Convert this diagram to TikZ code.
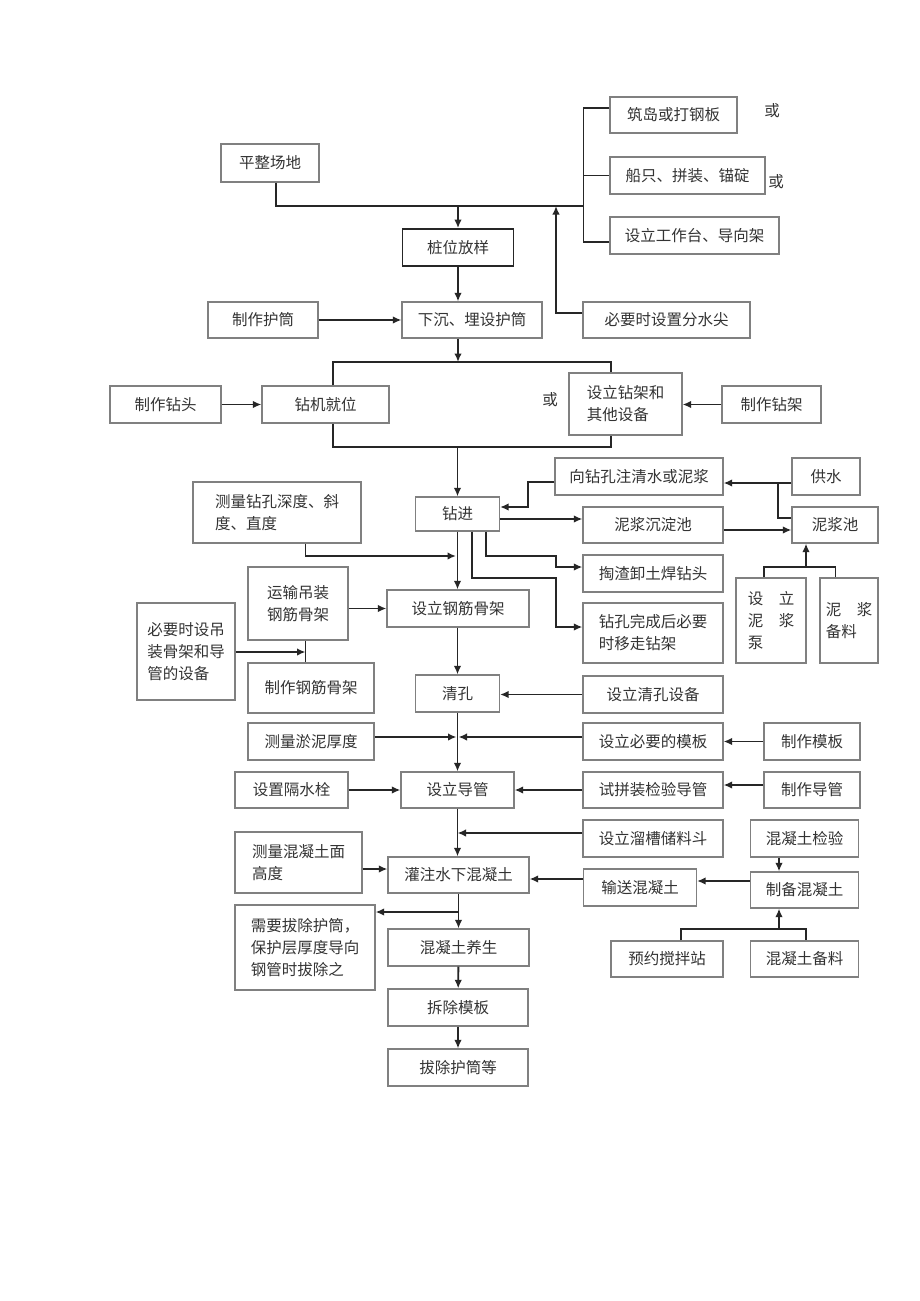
\documentclass[tikz,border=0pt]{standalone}
\usepackage{fontspec}
\setmainfont{Noto Sans CJK SC}
\usetikzlibrary{arrows.meta}

\begin{document}
\begin{tikzpicture}[x=1pt,y=-1pt,
    every node/.style={font=\fontsize{15.5}{22}\selectfont,text=black!80},
    box/.style={draw=black!50,line width=1.2pt,rectangle,inner sep=2pt,align=center},
    sz/.style 2 args={minimum width=#1pt,minimum height=#2pt},
    ln/.style={black!85,line width=1.9pt},
    arr/.style={ln,-{Latex[length=8.5pt,width=7.5pt]}}]
\fill[white] (0,0) rectangle (920,1301);

% top part
\node[box,sz={98}{38}] (pzcd) at (270,163) {平整场地};
\node[box,sz={127}{36}] (zhudao) at (673.5,115) {筑岛或打钢板};
\node[box,sz={155}{37}] (chuanzhi) at (687.5,175.5) {船只、拼装、锚碇};
\node[box,sz={169}{37}] (gzt) at (694.5,235.5) {设立工作台、导向架};
\node (huo1) at (772,111) {或};
\node (huo2) at (776,182) {或};
\node[box,sz={111}{37},draw=black!85,line width=1.8pt] (zwfy) at (458,247.5) {桩位放样};
\node[box,sz={110}{36}] (zzhut) at (263,320) {制作护筒};
\node[box,sz={140}{36}] (xcms) at (472,320) {下沉、埋设护筒};
\node[box,sz={167}{36}] (fenshui) at (666.5,320) {必要时设置分水尖};

\coordinate (bus) at (583.5,206);
\coordinate (brt) at (583.5,108);
\coordinate (brb) at (583.5,242);
\coordinate (fs) at (556,206);
\coordinate (fsb) at (556,313);
\draw[ln] ([xshift=6pt]pzcd.south) |- (bus);
\draw[ln] (brt -| zhudao.west) -- (brt) -- (brb) -- (brb -| gzt.west);
\draw[ln] (chuanzhi.west) -- (chuanzhi.west -| brt);
\draw[arr] (zwfy.north |- bus) -- (zwfy.north);
\draw[arr] (fsb -| fenshui.west) -- (fsb) -- (fs);
\draw[arr] (zwfy.south) -- (zwfy.south |- xcms.north);
\draw[arr] (zzhut) -- (xcms);

% drilling rig
\node[box,sz={111}{37}] (zuantou) at (165.5,404.5) {制作钻头};
\node[box,sz={127}{37}] (zjjw) at (325.5,404.5) {钻机就位};
\node (huo3) at (550,400) {或};
\node[box,sz={113}{62},align=left] (zjss) at (625.5,404) {设立钻架和\\其他设备};
\node[box,sz={99}{37}] (zzzj) at (771.5,404.5) {制作钻架};

\coordinate (rl) at (333,362);
\coordinate (rr) at (611,362);
\coordinate (rbl) at (333,447);
\coordinate (rbr) at (611,447);
\draw[arr] (xcms.south -| zwfy.south) -- (rl -| zwfy.south);
\draw[ln] (zjjw.north -| rl) -- (rl) -- (rr) -- (zjss.north -| rr);
\draw[ln] (zjjw.south -| rl) -- (rbl) -- (rbr) -- (zjss.south -| rbr);
\draw[arr] (zuantou) -- (zjjw);
\draw[arr] (zzzj.west) -- (zzzj.west -| zjss.east);

% drilling
\node[box,sz={84}{34}] (zuanjin) at (457.5,514) {钻进};
\node[box,sz={168}{37}] (zhushui) at (639,476.5) {向钻孔注清水或泥浆};
\node[box,sz={68}{37}] (gongshui) at (826,476.5) {供水};
\node[box,sz={140}{36}] (cdc) at (653,525) {泥浆沉淀池};
\node[box,sz={86}{36}] (njc) at (835,525) {泥浆池};
\node[box,sz={168}{61},align=left] (celiang) at (277,512.5) {测量钻孔深度、斜\\度、直度};
\node[box,sz={140}{37}] (taozha) at (653,573.5) {掏渣卸土焊钻头};
\node[box,sz={140}{60},align=left] (yizou) at (653,633) {钻孔完成后必要\\时移走钻架};
\node[box,sz={70}{85},align=left] (nbeng) at (771,620.5) {设\quad 立\\泥\quad 浆\\泵};
\node[box,sz={58}{85},align=left] (nbl) at (849,620.5) {泥\quad 浆\\备料};

\draw[arr] (rbl -| zuanjin.north) -- (zuanjin.north);
\coordinate (jn) at (778,483);
\coordinate (zs) at (528,482);
\coordinate (b1) at (556,556);
\coordinate (b2) at (556,578);
\coordinate (m1) at (456,556);
\coordinate (t1) at (806,567);
\draw[arr] ([yshift=-6.5pt]gongshui.west) -- ([yshift=-6.5pt]zhushui.east);
\draw[ln] ([yshift=7pt]njc.west) -| (jn);
\draw[arr] (zs -| zhushui.west) -- (zs) |- ([yshift=7pt]zuanjin.east);
\draw[arr] ([yshift=-5pt]zuanjin.east) -- ([yshift=6pt]cdc.west);
\draw[arr] ([yshift=-5pt]cdc.east) -- ([yshift=-5pt]njc.west);
\draw[arr] ([xshift=28.5pt]zuanjin.south) |- (b1) |- ([yshift=6.5pt]taozha.west);
\draw[arr] ([xshift=14.5pt]zuanjin.south) |- (b2) |- ([yshift=6pt]yizou.west);
\draw[arr] ([xshift=28.5pt]celiang.south) |- (m1);
\draw[ln] ([xshift=-7pt]nbeng.north) |- (t1) -| ([xshift=-13.5pt]nbl.north);
\draw[arr] (t1) -- (t1 |- njc.south);

% reinforcement cage
\node[box,sz={100}{73},align=left] (yunshu) at (298,603.5) {运输吊装\\钢筋骨架};
\node[box,sz={142}{37}] (slgj) at (458,608.5) {设立钢筋骨架};
\node[box,sz={98}{97},align=left] (diaozh) at (186,651.5) {必要时设吊\\装骨架和导\\管的设备};
\node[box,sz={126}{50}] (zzgj) at (311,688) {制作钢筋骨架};

\coordinate (v1) at (305.5,652);
\draw[arr] (zuanjin.south) -- (zuanjin.south |- slgj.north);
\draw[arr] (yunshu.east |- slgj.west) -- (slgj.west);
\draw[ln] (yunshu.south -| v1) -- (zzgj.north -| v1);
\draw[arr] (diaozh.east |- v1) -- (v1);

% cleaning and pipes
\node[box,sz={84}{37}] (qingkong) at (457.5,693.5) {清孔};
\node[box,sz={140}{37}] (qksb) at (653,694.5) {设立清孔设备};
\node[box,sz={126}{37}] (yuni) at (311,741.5) {测量淤泥厚度};
\node[box,sz={140}{37}] (mbsl) at (653,741.5) {设立必要的模板};
\node[box,sz={96}{37}] (zzmb) at (812,741.5) {制作模板};
\node[box,sz={113}{36}] (gsh) at (291.5,790) {设置隔水栓};
\node[box,sz={113}{36}] (sldg) at (457.5,790) {设立导管};
\node[box,sz={140}{36}] (pinzh) at (653,790) {试拼装检验导管};
\node[box,sz={96}{36}] (zzdg) at (812,790) {制作导管};

\coordinate (m2) at (457.5,737);
\draw[arr] (slgj.south -| qingkong.north) -- (qingkong.north);
\draw[arr] (qksb.west) -- (qksb.west -| qingkong.east);
\draw[arr] (qingkong.south) -- (qingkong.south |- sldg.north);
\draw[arr] ([yshift=4.5pt]yuni.east) -- ([xshift=-1pt]m2);
\draw[arr] ([yshift=4.5pt]mbsl.west) -- ([xshift=1pt]m2);
\draw[arr] (zzmb) -- (mbsl);
\draw[arr] (gsh) -- (sldg);
\draw[arr] (pinzh) -- (sldg);
\draw[arr] ([yshift=5pt]zzdg.west) -- ([yshift=5pt]pinzh.east);

% concrete
\node[box,sz={140}{37}] (liucao) at (653,838.5) {设立溜槽储料斗};
\node[box,sz={108}{37}] (hjyan) at (804.5,838.5) {混凝土检验};
\node[box,sz={127}{61},align=left] (cmian) at (298.5,862.5) {测量混凝土面\\高度};
\node[box,sz={141}{36}] (guanzhu) at (458.5,875) {灌注水下混凝土};
\node[box,sz={113}{37}] (shusong) at (640,887.5) {输送混凝土};
\node[box,sz={108}{36}] (zhibei) at (804.5,890) {制备混凝土};
\node[box,sz={112}{36}] (yuyue) at (667,959) {预约搅拌站};
\node[box,sz={108}{36}] (hbl) at (804.5,959) {混凝土备料};
\node[box,sz={140}{85},align=left] (bachu) at (305,947.5) {需要拔除护筒，\\保护层厚度导向\\钢管时拔除之};
\node[box,sz={141}{37}] (yangsh) at (458.5,947.5) {混凝土养生};
\node[box,sz={140}{37}] (chaichu) at (458,1007.5) {拆除模板};
\node[box,sz={140}{37}] (bachuhu) at (458,1067.5) {拔除护筒等};

\coordinate (m3) at (457.5,833);
\coordinate (t2) at (779,929);
\coordinate (m5) at (458.5,912);
\draw[arr] (sldg.south) -- (sldg.south |- guanzhu.north);
\draw[arr] ([yshift=5.5pt]liucao.west) -- (m3);
\draw[arr] ([yshift=-6.5pt]cmian.east) -- ([yshift=6pt]guanzhu.west);
\draw[arr] ([yshift=8.5pt]shusong.west) -- ([yshift=-4pt]guanzhu.east);
\draw[arr] ([yshift=9pt]zhibei.west) -- ([yshift=6.5pt]shusong.east);
\draw[arr] ([xshift=-25.5pt]hjyan.south) -- ([xshift=-25.5pt]zhibei.north);
\draw[ln] ([xshift=14pt]yuyue.north) |- (t2) -| ([xshift=1.5pt]hbl.north);
\draw[arr] (t2) -- (t2 |- zhibei.south);
\draw[arr] (guanzhu.south) -- (yangsh.north);
\draw[arr] (m5) -- (m5 -| bachu.east);
\draw[arr] (yangsh) -- (chaichu);
\draw[arr] (chaichu) -- (bachuhu);
\end{tikzpicture}
\end{document}
